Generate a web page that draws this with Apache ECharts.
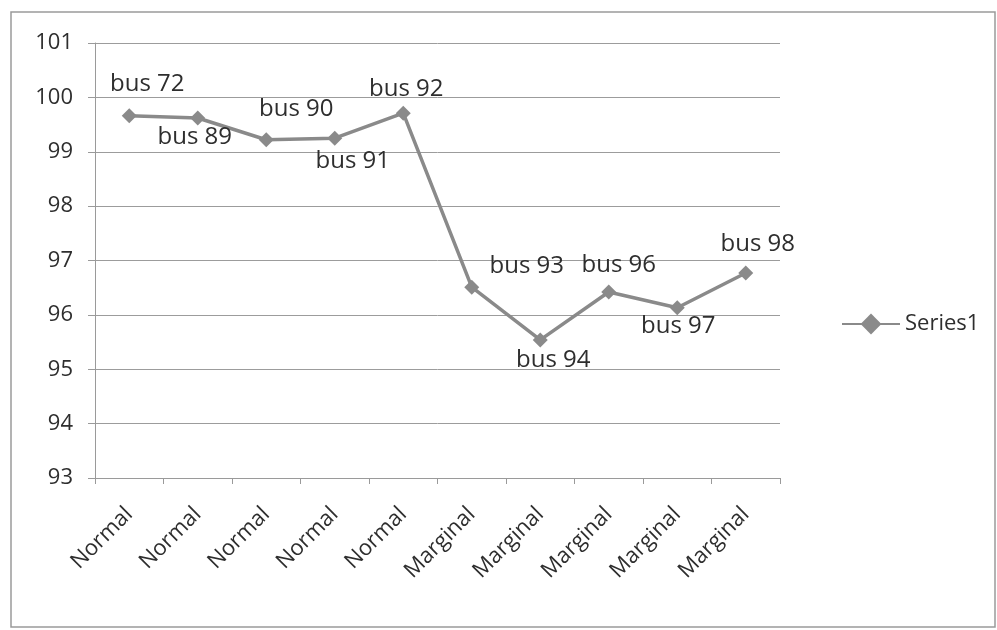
<!DOCTYPE html>
<html>
<head>
<meta charset="utf-8">
<script src="https://cdn.jsdelivr.net/npm/echarts@6/dist/echarts.min.js"></script>
<style>
  html, body { margin: 0; padding: 0; background: #fff; }
  #chart { width: 997px; height: 630px; }
</style>
</head>
<body>
<div id="chart"></div>
<script>
// Bus condition categories along the x axis
var categories = ['Normal', 'Normal', 'Normal', 'Normal', 'Normal',
                  'Marginal', 'Marginal', 'Marginal', 'Marginal', 'Marginal'];
// Bus names shown as point labels
var busNames = ['bus 72', 'bus 89', 'bus 90', 'bus 91', 'bus 92',
                'bus 93', 'bus 94', 'bus 96', 'bus 97', 'bus 98'];
// Series1 values
var series1 = [99.66, 99.62, 99.22, 99.25, 99.71, 96.51, 95.54, 96.42, 96.13, 96.77];
// Y axis range
var yMin = 93, yMax = 101, yStep = 1;

// Label placement for each point: side and pixel nudge
var labelPlacement = [
  { pos: 'top',    off: [18, -9] },
  { pos: 'bottom', off: [-3, -3] },
  { pos: 'top',    off: [30, -8] },
  { pos: 'bottom', off: [18, 0] },
  { pos: 'top',    off: [3, -1] },
  { pos: 'top',    off: [55, 2] },
  { pos: 'bottom', off: [13, -2] },
  { pos: 'top',    off: [10, -4] },
  { pos: 'bottom', off: [1, -4] },
  { pos: 'top',    off: [12, -6] }
];

var lineColor = '#8a8a8a';
var textColor = '#2e2e2e';
var fontFamily = '"Open Sans", "Liberation Sans", sans-serif';

var points = series1.map(function (v, i) {
  return {
    value: v,
    name: busNames[i],
    label: {
      position: labelPlacement[i].pos,
      offset: labelPlacement[i].off
    }
  };
});

var chart = echarts.init(document.getElementById('chart'), null, { renderer: 'canvas' });
chart.setOption({
  backgroundColor: '#ffffff',
  animation: false,
  textStyle: { fontFamily: fontFamily },
  graphic: [{
    type: 'rect',
    shape: { x: 11, y: 12, width: 984, height: 615 },
    style: { fill: 'none', stroke: '#9a9a9a', lineWidth: 1.5 },
    silent: true
  }],
  grid: { left: 95, right: 217, top: 43, bottom: 152, containLabel: false },
  legend: {
    left: 836, top: 308,
    itemWidth: 58, itemHeight: 26, itemGap: 5,
    data: ['Series1'],
    textStyle: { color: textColor, fontSize: 22, fontFamily: fontFamily }
  },
  xAxis: {
    type: 'category',
    data: categories,
    boundaryGap: true,
    axisLine: { show: true, lineStyle: { color: '#9a9a9a', width: 1 } },
    axisTick: { show: true, inside: false, length: 6, lineStyle: { color: '#9a9a9a' } },
    axisLabel: {
      interval: 0, rotate: 45, margin: 33,
      color: textColor, fontSize: 22, fontFamily: fontFamily
    }
  },
  yAxis: {
    type: 'value',
    min: yMin, max: yMax, interval: yStep,
    axisLine: { show: true, lineStyle: { color: '#9a9a9a', width: 1 } },
    axisTick: { show: true, length: 7, lineStyle: { color: '#9a9a9a' } },
    splitLine: { show: true, lineStyle: { color: '#9c9c9c', width: 1 } },
    axisLabel: { margin: 22, color: textColor, fontSize: 22, fontFamily: fontFamily }
  },
  series: [{
    name: 'Series1',
    type: 'line',
    data: points,
    symbol: 'diamond',
    symbolSize: 15,
    itemStyle: { color: lineColor },
    lineStyle: { color: lineColor, width: 3.5 },
    label: {
      show: true,
      formatter: function (p) { return p.name; },
      color: textColor,
      fontSize: 24,
      distance: 3,
      fontFamily: fontFamily
    }
  }]
});
</script>
</body>
</html>
